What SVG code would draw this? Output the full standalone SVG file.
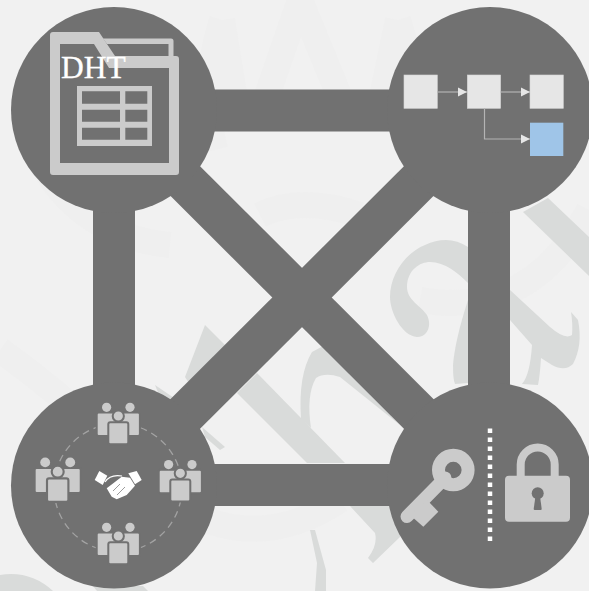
<svg xmlns="http://www.w3.org/2000/svg" xmlns:xlink="http://www.w3.org/1999/xlink" width="589" height="591" viewBox="0 0 589 591">
<style>
.hub{fill:#717171}
.bar{stroke:#717171;stroke-width:42;fill:none}
.ic{fill:#cbcbcb}
.box{fill:#e6e6e6;stroke:#d6d6d6;stroke-width:.6}
.wire{fill:none;stroke:#b4b4b4;stroke-width:1.2}
.wm{fill:#d9dbda}
.wf{fill:none;stroke:#efefef;stroke-width:26}
.p{fill:#cbcbcb;stroke:#717171;stroke-width:2}
.tx{font-family:"Liberation Serif","Times New Roman",serif;fill:#fff;stroke:#fff;stroke-width:.3}
</style>
<defs>
<marker id="ah" markerUnits="userSpaceOnUse" markerWidth="10" markerHeight="10" refX="9" refY="5" orient="auto"><path d="M0,.5L9,5L0,9.5Z" fill="#e6e6e6"/></marker>
<g id="people">
<rect class="p" x="-21.6" y="-3.5" width="20" height="23.5" rx="2"/>
<rect class="p" x="1.6" y="-3.5" width="20" height="23.5" rx="2"/>
<circle class="ic" cx="-11.7" cy="-8.7" r="4.6"/>
<circle class="ic" cx="11.7" cy="-8.7" r="4.6"/>
<rect class="p" x="-10" y="6.2" width="20" height="22" rx="2"/>
<circle class="p" cx="0" cy="0" r="5.6"/>
</g>
</defs>
<rect id="background" width="589" height="591" fill="#f1f1f1"/>
<g id="watermark">
<path class="wf" d="M222,20 L240,130 M222,20 Q200,90 215,150 M300,0 L262,110 M300,0 L345,110 M398,20 L375,130 M398,20 Q420,90 410,150"/>
<path class="wf" d="M30,140 Q70,235 170,245 M260,215 Q300,195 360,215 M0,350 Q70,400 140,470 M420,300 Q530,320 589,210 M160,495 Q250,560 340,500"/>
<path class="wm" d="M523,212L548,198L589,237V276Z"/>
<path class="wm" d="M468,247C455,238 440,238 425,245C405,253 390,275 390,297C390,312 402,336 417,337C428,337 432,325 427,315C420,305 407,300 407,287C407,270 420,262 430,262C445,262 458,273 468,283Z"/>
<path class="wm" d="M510,290L550,327Q565,340 572,335Q573,325 571,312L578,320Q583,345 573,364Q565,372 552,365L541,358Q540,375 538,385L522,384Q530,375 532,345L510,320Z"/>
<path class="wm" d="M468,300Q455,340 453,365Q453,380 455,384L468,383Z"/>
<path class="wm" d="M257,373L345,463H307L237,393Z"/>
<path class="wm" d="M350,506L375,533Q378,545 368,558L373,563L400,537V506Z"/>
<path class="wm" d="M301,419Q298,375 312,352L325,345L400,425L340,377Q325,372 316,378Q306,395 311,428Z"/>
<path class="wm" d="M185,377L205,325L240,360L200,400Z"/>
<path class="wm" d="M202,427L225,447L220,450L205,437Z"/>
<path class="wm" d="M155,385L180,402L165,410Z"/>
<path class="wm" d="M0,575Q30,570 53,591H0Z"/>
<path class="wm" d="M93,586H143L148,591H97Z"/>
<path class="wm" d="M310,530H315L326,570V591H315L317,563Z"/>
</g>
<g id="connectors">
<line class="bar" x1="114" y1="110.500" x2="490" y2="110.500"/>
<line class="bar" x1="114" y1="485" x2="490" y2="485"/>
<line class="bar" x1="114" y1="110" x2="114" y2="485"/>
<line class="bar" x1="489" y1="110" x2="489" y2="485"/>
<line class="bar" x1="114" y1="110" x2="490" y2="485"/>
<line class="bar" x1="490" y1="110" x2="114" y2="485"/>
</g>
<g id="node-dht">
<circle class="hub" cx="114" cy="110" r="103"/>
<path class="ic" d="M103,38.500H171Q173.500,38.500 173.500,41V58H168.500V44H107Z"/>
<path class="ic" fill-rule="evenodd" d="M53,32H99L115,56H176Q179,56 179,59V172Q179,175 176,175H53Q50,175 50,172V35Q50,32 53,32ZM60,44V163H169V68H109L94,44Z"/>
<path class="ic" fill-rule="evenodd" d="M77,86H152V146H77ZM82,91.300V103.700H120V91.300ZM125.300,91.300V103.700H147.300V91.300ZM82,109.700V121.700H120V109.700ZM125.300,109.700V121.700H147.300V109.700ZM82,127.700V139.700H120V127.700ZM125.300,127.700V139.700H147.300V127.700Z"/>
<text class="tx" x="61" y="77.500" font-size="31.500">DHT</text>
</g>
<g id="node-chain">
<circle class="hub" cx="490" cy="110" r="103"/>
<rect class="box" x="404" y="75" width="33.300" height="33.300"/>
<rect class="box" x="467.300" y="75" width="33.300" height="33.300"/>
<rect class="box" x="530" y="75" width="33.300" height="33.300"/>
<rect x="530" y="122.700" width="33.300" height="33.300" fill="#9fc5e8"/>
<path class="wire" d="M437.300,92H467" marker-end="url(#ah)"/>
<path class="wire" d="M500.600,92H530" marker-end="url(#ah)"/>
<path class="wire" d="M484.500,108.300V139H530" marker-end="url(#ah)"/>
</g>
<g id="node-peers">
<circle class="hub" cx="114" cy="485.500" r="103"/>
<circle cx="118" cy="487.700" r="64" fill="none" stroke="#a3a3a3" stroke-width="1.300" stroke-dasharray="7 5"/>
<use xlink:href="#people" href="#people" transform="translate(118.300 416)"/>
<use xlink:href="#people" href="#people" transform="translate(118.300 536)"/>
<use xlink:href="#people" href="#people" transform="translate(57.700 471.700) scale(1.070)"/>
<use xlink:href="#people" href="#people" transform="translate(180.300 473.300)"/>
<g id="handshake" fill="#fff">
<path d="M99.300,471L107.300,475.700L102.700,485L94.700,480Z"/>
<path d="M128.300,473.300L136.700,471L141.700,480L135,484.300Z"/>
<path d="M105,482Q110,474 122,476" fill="none" stroke="#fff" stroke-width="1.200"/>
<path d="M121.700,476.700L130,477.700L135,485.700L126.700,495L116.700,499.300L111.700,496.700L106.700,488.300L113.300,483.300Z"/>
<path d="M113,491L120,484M117,495L125,487" fill="none" stroke="#717171" stroke-width=".7"/>
</g>
</g>
<g id="node-keys">
<circle class="hub" cx="490" cy="485.500" r="103"/>
<path class="ic" fill-rule="evenodd" d="M453.300,448.700a21.300,21.300 0 1 1 0,42.600a21.300,21.300 0 1 1 0,-42.600ZM453.300,461.700a8.300,8.300 0 1 0 0,16.600a8.300,8.300 0 1 0 0,-16.600Z"/>
<path d="M445,478L407,516.500" stroke="#cbcbcb" stroke-width="13" stroke-linecap="round" fill="none"/>
<path class="ic" d="M410,515L423.300,526.700L438.300,511.700L427,500Z"/>
<path d="M490,428.500V541" stroke="#fff" stroke-width="4.500" stroke-dasharray="4.500 4.500" fill="none"/>
<path d="M520.700,478V464.500a17,17 0 0 1 34,0V478" fill="none" stroke="#cbcbcb" stroke-width="8"/>
<rect class="ic" x="505" y="475.700" width="65" height="46" rx="4"/>
<circle class="hub" cx="537.700" cy="493.300" r="6"/>
<path class="hub" d="M535.500,496H540L541.700,509Q541.700,510 540.700,510H534.700Q533.700,510 533.700,509Z"/>
</g>
</svg>
